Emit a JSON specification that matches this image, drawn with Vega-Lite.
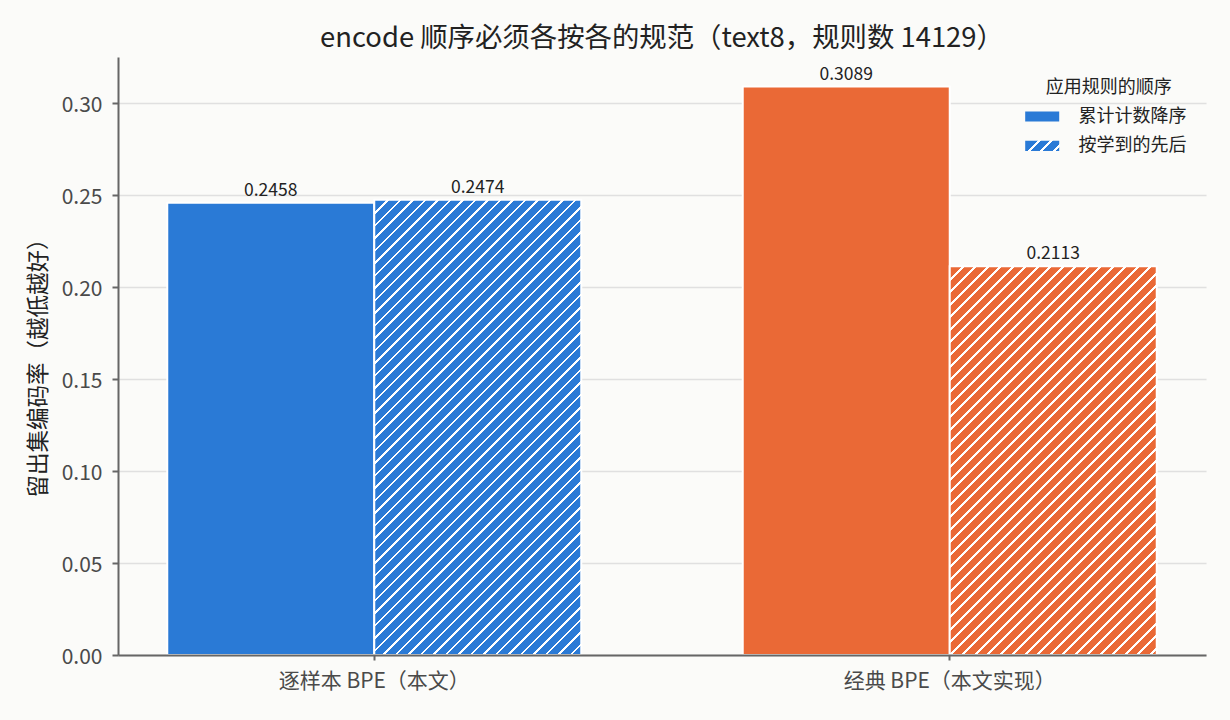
{
  "$schema": "https://vega.github.io/schema/vega-lite/v6.json",
  "description": "encode 顺序必须各按各的规范（text8，规则数 14129）",
  "autosize": {"type": "none"},
  "padding": {"left": 118, "top": 57, "right": 24, "bottom": 65},
  "width": 1088,
  "height": 598,
  "background": "#fbfbf9",
  "title": {
    "text": "encode 顺序必须各按各的规范（text8，规则数 14129）",
    "font": "Noto Sans CJK SC",
    "fontSize": 27.4,
    "fontWeight": "normal",
    "color": "#222222",
    "anchor": "middle",
    "offset": 5
  },
  "data": {
    "values": [
      {"method": "逐样本 BPE（本文）", "order": "累计计数降序", "value": 0.2458},
      {"method": "逐样本 BPE（本文）", "order": "按学到的先后", "value": 0.2474},
      {"method": "经典 BPE（本文实现）", "order": "累计计数降序", "value": 0.3089},
      {"method": "经典 BPE（本文实现）", "order": "按学到的先后", "value": 0.2113}
    ]
  },
  "encoding": {
    "x": {
      "field": "method",
      "type": "nominal",
      "sort": null,
      "scale": {"domain": ["逐样本 BPE（本文）", "经典 BPE（本文实现）"], "paddingInner": 0.2806, "paddingOuter": 0.0856},
      "axis": {"title": null, "labelAngle": 0, "labelLimit": 0, "zindex": 1, "grid": false}
    },
    "xOffset": {
      "field": "order",
      "type": "nominal",
      "sort": null,
      "scale": {"domain": ["累计计数降序", "按学到的先后"], "paddingInner": 0, "paddingOuter": 0}
    },
    "y": {
      "field": "value",
      "type": "quantitative",
      "scale": {"domain": [0, 0.325], "nice": false, "zero": true},
      "axis": {
        "title": "留出集编码率（越低越好）",
        "values": [0, 0.05, 0.1, 0.15, 0.2, 0.25, 0.3],
        "format": ".2f",
        "grid": true,
        "titleX": -80,
        "titleY": 305,
        "titleBaseline": "middle",
        "labelOffset": 2
      }
    }
  },
  "layer": [
    {
      "transform": [{"filter": "datum.order === '累计计数降序'"}],
      "mark": {"type": "bar", "stroke": "#ffffff", "strokeWidth": 2},
      "encoding": {
        "fill": {
          "field": "method",
          "type": "nominal",
          "scale": {"domain": ["逐样本 BPE（本文）", "经典 BPE（本文实现）"], "range": ["#2a7ad6", "#ea6936"]},
          "legend": null
        },
        "opacity": {
          "field": "order",
          "type": "nominal",
          "scale": {"domain": ["累计计数降序", "按学到的先后"], "range": [1, 1]},
          "legend": {
            "title": "应用规则的顺序",
            "orient": "none",
            "legendX": 912.7,
            "legendY": 22,
            "direction": "vertical",
            "titleFont": "Noto Sans CJK SC",
            "titleFontSize": 18,
            "titleFontWeight": "normal",
            "titleColor": "#222222",
            "titleAnchor": "middle",
            "titlePadding": 8,
            "labelFont": "Noto Sans CJK SC",
            "labelFontSize": 18,
            "labelColor": "#222222",
            "labelOffset": 24.7,
            "labelLimit": 0,
            "symbolType": "M-1.5,-0.45H1.5V0.45H-1.5Z",
            "symbolSize": 513.8,
            "symbolFillColor": {"expr": "datum.index === 1 ? {gradient: 'linear', x1: 0, y1: 0, x2: 26.983, y2: 8.095, stops: [{offset: 0.0125, color: '#2a7ad6'}, {offset: 0.0125, color: '#ffffff'}, {offset: 0.0153, color: '#ffffff'}, {offset: 0.0153, color: '#2a7ad6'}, {offset: 0.025, color: '#2a7ad6'}, {offset: 0.025, color: '#ffffff'}, {offset: 0.0278, color: '#ffffff'}, {offset: 0.0278, color: '#2a7ad6'}, {offset: 0.0375, color: '#2a7ad6'}, {offset: 0.0375, color: '#ffffff'}, {offset: 0.0403, color: '#ffffff'}, {offset: 0.0403, color: '#2a7ad6'}]} : '#2a7ad6'"},
            "symbolStrokeWidth": 0,
            "symbolOpacity": 1,
            "rowPadding": 8.3
          }
        }
      }
    },
    {
      "transform": [{"filter": "datum.order === '按学到的先后' && datum.method === '逐样本 BPE（本文）'"}],
      "mark": {
        "type": "bar",
        "stroke": "#ffffff",
        "strokeWidth": 2,
        "fill": {
          "gradient": "linear", "x1": 0, "y1": 0, "x2": 0.827814, "y2": 1.82039,
          "stops": [
            {"offset":0.0125,"color":"#2a7ad6"},{"offset":0.0125,"color":"#fff"},{"offset":0.0153,"color":"#fff"},{"offset":0.0153,"color":"#2a7ad6"},
            {"offset":0.025,"color":"#2a7ad6"},{"offset":0.025,"color":"#fff"},{"offset":0.0278,"color":"#fff"},{"offset":0.0278,"color":"#2a7ad6"},
            {"offset":0.0375,"color":"#2a7ad6"},{"offset":0.0375,"color":"#fff"},{"offset":0.0403,"color":"#fff"},{"offset":0.0403,"color":"#2a7ad6"},
            {"offset":0.05,"color":"#2a7ad6"},{"offset":0.05,"color":"#fff"},{"offset":0.0528,"color":"#fff"},{"offset":0.0528,"color":"#2a7ad6"},
            {"offset":0.0625,"color":"#2a7ad6"},{"offset":0.0625,"color":"#fff"},{"offset":0.0653,"color":"#fff"},{"offset":0.0653,"color":"#2a7ad6"},
            {"offset":0.075,"color":"#2a7ad6"},{"offset":0.075,"color":"#fff"},{"offset":0.0778,"color":"#fff"},{"offset":0.0778,"color":"#2a7ad6"},
            {"offset":0.0875,"color":"#2a7ad6"},{"offset":0.0875,"color":"#fff"},{"offset":0.0903,"color":"#fff"},{"offset":0.0903,"color":"#2a7ad6"},
            {"offset":0.1,"color":"#2a7ad6"},{"offset":0.1,"color":"#fff"},{"offset":0.1028,"color":"#fff"},{"offset":0.1028,"color":"#2a7ad6"},
            {"offset":0.1125,"color":"#2a7ad6"},{"offset":0.1125,"color":"#fff"},{"offset":0.1153,"color":"#fff"},{"offset":0.1153,"color":"#2a7ad6"},
            {"offset":0.125,"color":"#2a7ad6"},{"offset":0.125,"color":"#fff"},{"offset":0.1278,"color":"#fff"},{"offset":0.1278,"color":"#2a7ad6"},
            {"offset":0.1375,"color":"#2a7ad6"},{"offset":0.1375,"color":"#fff"},{"offset":0.1403,"color":"#fff"},{"offset":0.1403,"color":"#2a7ad6"},
            {"offset":0.15,"color":"#2a7ad6"},{"offset":0.15,"color":"#fff"},{"offset":0.1528,"color":"#fff"},{"offset":0.1528,"color":"#2a7ad6"},
            {"offset":0.1625,"color":"#2a7ad6"},{"offset":0.1625,"color":"#fff"},{"offset":0.1653,"color":"#fff"},{"offset":0.1653,"color":"#2a7ad6"},
            {"offset":0.175,"color":"#2a7ad6"},{"offset":0.175,"color":"#fff"},{"offset":0.1778,"color":"#fff"},{"offset":0.1778,"color":"#2a7ad6"},
            {"offset":0.1875,"color":"#2a7ad6"},{"offset":0.1875,"color":"#fff"},{"offset":0.1903,"color":"#fff"},{"offset":0.1903,"color":"#2a7ad6"},
            {"offset":0.2,"color":"#2a7ad6"},{"offset":0.2,"color":"#fff"},{"offset":0.2028,"color":"#fff"},{"offset":0.2028,"color":"#2a7ad6"},
            {"offset":0.2125,"color":"#2a7ad6"},{"offset":0.2125,"color":"#fff"},{"offset":0.2153,"color":"#fff"},{"offset":0.2153,"color":"#2a7ad6"},
            {"offset":0.225,"color":"#2a7ad6"},{"offset":0.225,"color":"#fff"},{"offset":0.2278,"color":"#fff"},{"offset":0.2278,"color":"#2a7ad6"},
            {"offset":0.2375,"color":"#2a7ad6"},{"offset":0.2375,"color":"#fff"},{"offset":0.2403,"color":"#fff"},{"offset":0.2403,"color":"#2a7ad6"},
            {"offset":0.25,"color":"#2a7ad6"},{"offset":0.25,"color":"#fff"},{"offset":0.2528,"color":"#fff"},{"offset":0.2528,"color":"#2a7ad6"},
            {"offset":0.2625,"color":"#2a7ad6"},{"offset":0.2625,"color":"#fff"},{"offset":0.2653,"color":"#fff"},{"offset":0.2653,"color":"#2a7ad6"},
            {"offset":0.275,"color":"#2a7ad6"},{"offset":0.275,"color":"#fff"},{"offset":0.2778,"color":"#fff"},{"offset":0.2778,"color":"#2a7ad6"},
            {"offset":0.2875,"color":"#2a7ad6"},{"offset":0.2875,"color":"#fff"},{"offset":0.2903,"color":"#fff"},{"offset":0.2903,"color":"#2a7ad6"},
            {"offset":0.3,"color":"#2a7ad6"},{"offset":0.3,"color":"#fff"},{"offset":0.3028,"color":"#fff"},{"offset":0.3028,"color":"#2a7ad6"},
            {"offset":0.3125,"color":"#2a7ad6"},{"offset":0.3125,"color":"#fff"},{"offset":0.3153,"color":"#fff"},{"offset":0.3153,"color":"#2a7ad6"},
            {"offset":0.325,"color":"#2a7ad6"},{"offset":0.325,"color":"#fff"},{"offset":0.3278,"color":"#fff"},{"offset":0.3278,"color":"#2a7ad6"},
            {"offset":0.3375,"color":"#2a7ad6"},{"offset":0.3375,"color":"#fff"},{"offset":0.3403,"color":"#fff"},{"offset":0.3403,"color":"#2a7ad6"},
            {"offset":0.35,"color":"#2a7ad6"},{"offset":0.35,"color":"#fff"},{"offset":0.3528,"color":"#fff"},{"offset":0.3528,"color":"#2a7ad6"},
            {"offset":0.3625,"color":"#2a7ad6"},{"offset":0.3625,"color":"#fff"},{"offset":0.3653,"color":"#fff"},{"offset":0.3653,"color":"#2a7ad6"},
            {"offset":0.375,"color":"#2a7ad6"},{"offset":0.375,"color":"#fff"},{"offset":0.3778,"color":"#fff"},{"offset":0.3778,"color":"#2a7ad6"},
            {"offset":0.3875,"color":"#2a7ad6"},{"offset":0.3875,"color":"#fff"},{"offset":0.3903,"color":"#fff"},{"offset":0.3903,"color":"#2a7ad6"},
            {"offset":0.4,"color":"#2a7ad6"},{"offset":0.4,"color":"#fff"},{"offset":0.4028,"color":"#fff"},{"offset":0.4028,"color":"#2a7ad6"},
            {"offset":0.4125,"color":"#2a7ad6"},{"offset":0.4125,"color":"#fff"},{"offset":0.4153,"color":"#fff"},{"offset":0.4153,"color":"#2a7ad6"},
            {"offset":0.425,"color":"#2a7ad6"},{"offset":0.425,"color":"#fff"},{"offset":0.4278,"color":"#fff"},{"offset":0.4278,"color":"#2a7ad6"},
            {"offset":0.4375,"color":"#2a7ad6"},{"offset":0.4375,"color":"#fff"},{"offset":0.4403,"color":"#fff"},{"offset":0.4403,"color":"#2a7ad6"},
            {"offset":0.45,"color":"#2a7ad6"},{"offset":0.45,"color":"#fff"},{"offset":0.4528,"color":"#fff"},{"offset":0.4528,"color":"#2a7ad6"},
            {"offset":0.4625,"color":"#2a7ad6"},{"offset":0.4625,"color":"#fff"},{"offset":0.4653,"color":"#fff"},{"offset":0.4653,"color":"#2a7ad6"},
            {"offset":0.475,"color":"#2a7ad6"},{"offset":0.475,"color":"#fff"},{"offset":0.4778,"color":"#fff"},{"offset":0.4778,"color":"#2a7ad6"},
            {"offset":0.4875,"color":"#2a7ad6"},{"offset":0.4875,"color":"#fff"},{"offset":0.4903,"color":"#fff"},{"offset":0.4903,"color":"#2a7ad6"},
            {"offset":0.5,"color":"#2a7ad6"},{"offset":0.5,"color":"#fff"},{"offset":0.5028,"color":"#fff"},{"offset":0.5028,"color":"#2a7ad6"},
            {"offset":0.5125,"color":"#2a7ad6"},{"offset":0.5125,"color":"#fff"},{"offset":0.5153,"color":"#fff"},{"offset":0.5153,"color":"#2a7ad6"},
            {"offset":0.525,"color":"#2a7ad6"},{"offset":0.525,"color":"#fff"},{"offset":0.5278,"color":"#fff"},{"offset":0.5278,"color":"#2a7ad6"},
            {"offset":0.5375,"color":"#2a7ad6"},{"offset":0.5375,"color":"#fff"},{"offset":0.5403,"color":"#fff"},{"offset":0.5403,"color":"#2a7ad6"},
            {"offset":0.55,"color":"#2a7ad6"},{"offset":0.55,"color":"#fff"},{"offset":0.5528,"color":"#fff"},{"offset":0.5528,"color":"#2a7ad6"},
            {"offset":0.5625,"color":"#2a7ad6"},{"offset":0.5625,"color":"#fff"},{"offset":0.5653,"color":"#fff"},{"offset":0.5653,"color":"#2a7ad6"},
            {"offset":0.575,"color":"#2a7ad6"},{"offset":0.575,"color":"#fff"},{"offset":0.5778,"color":"#fff"},{"offset":0.5778,"color":"#2a7ad6"},
            {"offset":0.5875,"color":"#2a7ad6"},{"offset":0.5875,"color":"#fff"},{"offset":0.5903,"color":"#fff"},{"offset":0.5903,"color":"#2a7ad6"},
            {"offset":0.6,"color":"#2a7ad6"},{"offset":0.6,"color":"#fff"},{"offset":0.6028,"color":"#fff"},{"offset":0.6028,"color":"#2a7ad6"},
            {"offset":0.6125,"color":"#2a7ad6"},{"offset":0.6125,"color":"#fff"},{"offset":0.6153,"color":"#fff"},{"offset":0.6153,"color":"#2a7ad6"},
            {"offset":0.625,"color":"#2a7ad6"},{"offset":0.625,"color":"#fff"},{"offset":0.6278,"color":"#fff"},{"offset":0.6278,"color":"#2a7ad6"},
            {"offset":0.6375,"color":"#2a7ad6"},{"offset":0.6375,"color":"#fff"},{"offset":0.6403,"color":"#fff"},{"offset":0.6403,"color":"#2a7ad6"},
            {"offset":0.65,"color":"#2a7ad6"},{"offset":0.65,"color":"#fff"},{"offset":0.6528,"color":"#fff"},{"offset":0.6528,"color":"#2a7ad6"}
          ]
        }
      }
    },
    {
      "transform": [{"filter": "datum.order === '按学到的先后' && datum.method === '经典 BPE（本文实现）'"}],
      "mark": {
        "type": "bar",
        "stroke": "#ffffff",
        "strokeWidth": 2,
        "fill": {
          "gradient": "linear", "x1": 0, "y1": 0, "x2": 1.066965, "y2": 2.004,
          "stops": [
            {"offset":0.0125,"color":"#ea6936"},{"offset":0.0125,"color":"#fff"},{"offset":0.0153,"color":"#fff"},{"offset":0.0153,"color":"#ea6936"},
            {"offset":0.025,"color":"#ea6936"},{"offset":0.025,"color":"#fff"},{"offset":0.0278,"color":"#fff"},{"offset":0.0278,"color":"#ea6936"},
            {"offset":0.0375,"color":"#ea6936"},{"offset":0.0375,"color":"#fff"},{"offset":0.0403,"color":"#fff"},{"offset":0.0403,"color":"#ea6936"},
            {"offset":0.05,"color":"#ea6936"},{"offset":0.05,"color":"#fff"},{"offset":0.0528,"color":"#fff"},{"offset":0.0528,"color":"#ea6936"},
            {"offset":0.0625,"color":"#ea6936"},{"offset":0.0625,"color":"#fff"},{"offset":0.0653,"color":"#fff"},{"offset":0.0653,"color":"#ea6936"},
            {"offset":0.075,"color":"#ea6936"},{"offset":0.075,"color":"#fff"},{"offset":0.0778,"color":"#fff"},{"offset":0.0778,"color":"#ea6936"},
            {"offset":0.0875,"color":"#ea6936"},{"offset":0.0875,"color":"#fff"},{"offset":0.0903,"color":"#fff"},{"offset":0.0903,"color":"#ea6936"},
            {"offset":0.1,"color":"#ea6936"},{"offset":0.1,"color":"#fff"},{"offset":0.1028,"color":"#fff"},{"offset":0.1028,"color":"#ea6936"},
            {"offset":0.1125,"color":"#ea6936"},{"offset":0.1125,"color":"#fff"},{"offset":0.1153,"color":"#fff"},{"offset":0.1153,"color":"#ea6936"},
            {"offset":0.125,"color":"#ea6936"},{"offset":0.125,"color":"#fff"},{"offset":0.1278,"color":"#fff"},{"offset":0.1278,"color":"#ea6936"},
            {"offset":0.1375,"color":"#ea6936"},{"offset":0.1375,"color":"#fff"},{"offset":0.1403,"color":"#fff"},{"offset":0.1403,"color":"#ea6936"},
            {"offset":0.15,"color":"#ea6936"},{"offset":0.15,"color":"#fff"},{"offset":0.1528,"color":"#fff"},{"offset":0.1528,"color":"#ea6936"},
            {"offset":0.1625,"color":"#ea6936"},{"offset":0.1625,"color":"#fff"},{"offset":0.1653,"color":"#fff"},{"offset":0.1653,"color":"#ea6936"},
            {"offset":0.175,"color":"#ea6936"},{"offset":0.175,"color":"#fff"},{"offset":0.1778,"color":"#fff"},{"offset":0.1778,"color":"#ea6936"},
            {"offset":0.1875,"color":"#ea6936"},{"offset":0.1875,"color":"#fff"},{"offset":0.1903,"color":"#fff"},{"offset":0.1903,"color":"#ea6936"},
            {"offset":0.2,"color":"#ea6936"},{"offset":0.2,"color":"#fff"},{"offset":0.2028,"color":"#fff"},{"offset":0.2028,"color":"#ea6936"},
            {"offset":0.2125,"color":"#ea6936"},{"offset":0.2125,"color":"#fff"},{"offset":0.2153,"color":"#fff"},{"offset":0.2153,"color":"#ea6936"},
            {"offset":0.225,"color":"#ea6936"},{"offset":0.225,"color":"#fff"},{"offset":0.2278,"color":"#fff"},{"offset":0.2278,"color":"#ea6936"},
            {"offset":0.2375,"color":"#ea6936"},{"offset":0.2375,"color":"#fff"},{"offset":0.2403,"color":"#fff"},{"offset":0.2403,"color":"#ea6936"},
            {"offset":0.25,"color":"#ea6936"},{"offset":0.25,"color":"#fff"},{"offset":0.2528,"color":"#fff"},{"offset":0.2528,"color":"#ea6936"},
            {"offset":0.2625,"color":"#ea6936"},{"offset":0.2625,"color":"#fff"},{"offset":0.2653,"color":"#fff"},{"offset":0.2653,"color":"#ea6936"},
            {"offset":0.275,"color":"#ea6936"},{"offset":0.275,"color":"#fff"},{"offset":0.2778,"color":"#fff"},{"offset":0.2778,"color":"#ea6936"},
            {"offset":0.2875,"color":"#ea6936"},{"offset":0.2875,"color":"#fff"},{"offset":0.2903,"color":"#fff"},{"offset":0.2903,"color":"#ea6936"},
            {"offset":0.3,"color":"#ea6936"},{"offset":0.3,"color":"#fff"},{"offset":0.3028,"color":"#fff"},{"offset":0.3028,"color":"#ea6936"},
            {"offset":0.3125,"color":"#ea6936"},{"offset":0.3125,"color":"#fff"},{"offset":0.3153,"color":"#fff"},{"offset":0.3153,"color":"#ea6936"},
            {"offset":0.325,"color":"#ea6936"},{"offset":0.325,"color":"#fff"},{"offset":0.3278,"color":"#fff"},{"offset":0.3278,"color":"#ea6936"},
            {"offset":0.3375,"color":"#ea6936"},{"offset":0.3375,"color":"#fff"},{"offset":0.3403,"color":"#fff"},{"offset":0.3403,"color":"#ea6936"},
            {"offset":0.35,"color":"#ea6936"},{"offset":0.35,"color":"#fff"},{"offset":0.3528,"color":"#fff"},{"offset":0.3528,"color":"#ea6936"},
            {"offset":0.3625,"color":"#ea6936"},{"offset":0.3625,"color":"#fff"},{"offset":0.3653,"color":"#fff"},{"offset":0.3653,"color":"#ea6936"},
            {"offset":0.375,"color":"#ea6936"},{"offset":0.375,"color":"#fff"},{"offset":0.3778,"color":"#fff"},{"offset":0.3778,"color":"#ea6936"},
            {"offset":0.3875,"color":"#ea6936"},{"offset":0.3875,"color":"#fff"},{"offset":0.3903,"color":"#fff"},{"offset":0.3903,"color":"#ea6936"},
            {"offset":0.4,"color":"#ea6936"},{"offset":0.4,"color":"#fff"},{"offset":0.4028,"color":"#fff"},{"offset":0.4028,"color":"#ea6936"},
            {"offset":0.4125,"color":"#ea6936"},{"offset":0.4125,"color":"#fff"},{"offset":0.4153,"color":"#fff"},{"offset":0.4153,"color":"#ea6936"},
            {"offset":0.425,"color":"#ea6936"},{"offset":0.425,"color":"#fff"},{"offset":0.4278,"color":"#fff"},{"offset":0.4278,"color":"#ea6936"},
            {"offset":0.4375,"color":"#ea6936"},{"offset":0.4375,"color":"#fff"},{"offset":0.4403,"color":"#fff"},{"offset":0.4403,"color":"#ea6936"},
            {"offset":0.45,"color":"#ea6936"},{"offset":0.45,"color":"#fff"},{"offset":0.4528,"color":"#fff"},{"offset":0.4528,"color":"#ea6936"},
            {"offset":0.4625,"color":"#ea6936"},{"offset":0.4625,"color":"#fff"},{"offset":0.4653,"color":"#fff"},{"offset":0.4653,"color":"#ea6936"},
            {"offset":0.475,"color":"#ea6936"},{"offset":0.475,"color":"#fff"},{"offset":0.4778,"color":"#fff"},{"offset":0.4778,"color":"#ea6936"},
            {"offset":0.4875,"color":"#ea6936"},{"offset":0.4875,"color":"#fff"},{"offset":0.4903,"color":"#fff"},{"offset":0.4903,"color":"#ea6936"},
            {"offset":0.5,"color":"#ea6936"},{"offset":0.5,"color":"#fff"},{"offset":0.5028,"color":"#fff"},{"offset":0.5028,"color":"#ea6936"},
            {"offset":0.5125,"color":"#ea6936"},{"offset":0.5125,"color":"#fff"},{"offset":0.5153,"color":"#fff"},{"offset":0.5153,"color":"#ea6936"},
            {"offset":0.525,"color":"#ea6936"},{"offset":0.525,"color":"#fff"},{"offset":0.5278,"color":"#fff"},{"offset":0.5278,"color":"#ea6936"},
            {"offset":0.5375,"color":"#ea6936"},{"offset":0.5375,"color":"#fff"},{"offset":0.5403,"color":"#fff"},{"offset":0.5403,"color":"#ea6936"},
            {"offset":0.55,"color":"#ea6936"},{"offset":0.55,"color":"#fff"},{"offset":0.5528,"color":"#fff"},{"offset":0.5528,"color":"#ea6936"},
            {"offset":0.5625,"color":"#ea6936"},{"offset":0.5625,"color":"#fff"},{"offset":0.5653,"color":"#fff"},{"offset":0.5653,"color":"#ea6936"},
            {"offset":0.575,"color":"#ea6936"},{"offset":0.575,"color":"#fff"},{"offset":0.5778,"color":"#fff"},{"offset":0.5778,"color":"#ea6936"},
            {"offset":0.5875,"color":"#ea6936"},{"offset":0.5875,"color":"#fff"},{"offset":0.5903,"color":"#fff"},{"offset":0.5903,"color":"#ea6936"}
          ]
        }
      }
    },
    {
      "mark": {
        "type": "text",
        "baseline": "alphabetic",
        "dy": -7,
        "font": "Noto Sans CJK SC",
        "fontSize": 17.5,
        "fill": "#222222"
      },
      "encoding": {
        "text": {"field": "value", "type": "quantitative", "format": ".4f"}
      }
    }
  ],
  "config": {
    "view": {"stroke": null},
    "font": "Noto Sans CJK SC",
    "axis": {
      "labelFont": "Noto Sans CJK SC",
      "labelFontSize": 21,
      "labelColor": "#4a4a4a",
      "titleFont": "Noto Sans CJK SC",
      "titleFontSize": 22.5,
      "titleFontWeight": "normal",
      "titleColor": "#222222",
      "domainColor": "#666666",
      "domainWidth": 2,
      "tickColor": "#666666",
      "tickWidth": 2,
      "tickSize": 6,
      "labelPadding": 10,
      "gridColor": "#e0e0e0",
      "gridWidth": 1.3
    },
    "axisX": {"tickSize": 5, "labelPadding": 10}
  }
}
